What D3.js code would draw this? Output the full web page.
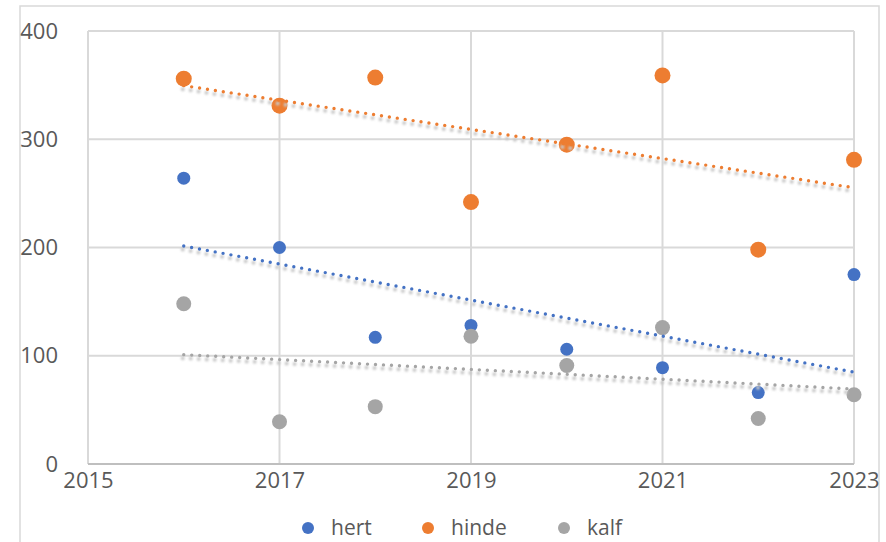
<!DOCTYPE html>
<html>
<head>
<meta charset="utf-8">
<script src="https://cdn.jsdelivr.net/npm/d3@7/dist/d3.min.js"></script>
<style>
  html, body { margin: 0; padding: 0; background: #fff; }
  svg { display: block; }
  text { font-family: "Open Sans", "Liberation Sans", sans-serif; fill: #595959; }
</style>
</head>
<body>
<svg id="chart" width="886" height="542"></svg>
<script>
// Jaarlijkse tellingen per categorie
const years = [2016, 2017, 2018, 2019, 2020, 2021, 2022, 2023];
const hert  = [264, 200, 117, 128, 106, 89, 66, 175];
const hinde = [356, 331, 357, 242, 295, 359, 198, 281];
const kalf  = [148, 39, 53, 118, 91, 126, 42, 64];

const seriesNames  = ["hert", "hinde", "kalf"];
const seriesColors = ["#4472C4", "#ED7D31", "#A5A5A5"];
const markerRadius = [6.5, 8, 7.5];

const xTicks = [2015, 2017, 2019, 2021, 2023];
const yTicks = [0, 100, 200, 300, 400];

const series = [hert, hinde, kalf].map((vals, i) => ({
  name: seriesNames[i],
  color: seriesColors[i],
  r: markerRadius[i],
  points: years.map((yr, j) => ({ x: yr, y: vals[j] }))
}));

const svg = d3.select("#chart");
const x = d3.scaleLinear().domain([2015, 2023]).range([88, 854]);
const y = d3.scaleLinear().domain([0, 400]).range([464, 31]);

// Outer chart frame
svg.append("rect")
  .attr("x", 20).attr("y", 6).attr("width", 859).attr("height", 560)
  .attr("fill", "none").attr("stroke", "#D9D9D9").attr("stroke-width", 1.5);

// Shadow filter for trendlines
const defs = svg.append("defs");
const f = defs.append("filter").attr("id", "trendShadow")
  .attr("x", "-10%").attr("y", "-50%").attr("width", "120%").attr("height", "200%");
f.append("feGaussianBlur").attr("stdDeviation", 0.9);

// Gridlines
const grid = svg.append("g");
grid.selectAll("line.h").data(yTicks.slice(1)).join("line")
  .attr("x1", x(2015)).attr("x2", x(2023))
  .attr("y1", d => y(d)).attr("y2", d => y(d))
  .attr("stroke", "#D9D9D9").attr("stroke-width", 2);
grid.selectAll("line.v").data(xTicks).join("line")
  .attr("x1", d => x(d)).attr("x2", d => x(d))
  .attr("y1", y(400)).attr("y2", y(0))
  .attr("stroke", "#D9D9D9").attr("stroke-width", 2);
// Horizontal axis line
grid.append("line")
  .attr("x1", x(2015)).attr("x2", x(2023))
  .attr("y1", y(0)).attr("y2", y(0))
  .attr("stroke", "#BFBFBF").attr("stroke-width", 2);

// Axes (labels only)
const yAxis = d3.axisLeft(y).tickValues(yTicks).tickSize(0).tickPadding(0);
svg.append("g").attr("transform", "translate(58,0)").call(yAxis)
  .call(g => g.select(".domain").remove())
  .selectAll("text").attr("font-size", 22).attr("fill", "#595959")
  .attr("font-family", "'Open Sans', sans-serif");

const xAxis = d3.axisBottom(x).tickValues(xTicks).tickFormat(d3.format("d")).tickSize(0).tickPadding(0);
svg.append("g").attr("transform", "translate(0,472)").call(xAxis)
  .call(g => g.select(".domain").remove())
  .selectAll("text").attr("font-size", 22).attr("fill", "#595959")
  .attr("font-family", "'Open Sans', sans-serif");

// Markers
const marks = svg.append("g");
series.forEach(s => {
  marks.append("g").selectAll("circle").data(s.points).join("circle")
    .attr("cx", d => x(d.x)).attr("cy", d => y(d.y))
    .attr("r", s.r).attr("fill", s.color);
});

// Linear trendlines (least squares)
function fit(points) {
  const mx = d3.mean(points, p => p.x), my = d3.mean(points, p => p.y);
  const sxy = d3.sum(points, p => (p.x - mx) * (p.y - my));
  const sxx = d3.sum(points, p => (p.x - mx) ** 2);
  const b = sxy / sxx, a = my - b * mx;
  const x0 = d3.min(points, p => p.x), x1 = d3.max(points, p => p.x);
  return [{ x: x0, y: a + b * x0 }, { x: x1, y: a + b * x1 }];
}
const line = d3.line().x(d => x(d.x)).y(d => y(d.y));
const trends = svg.append("g");
series.forEach(s => {
  const pts = fit(s.points);
  trends.append("path").attr("d", line(pts))
    .attr("transform", "translate(-1,3.5)")
    .attr("fill", "none").attr("stroke", "#C8C8C8").attr("stroke-width", 4)
    .attr("stroke-linecap", "round").attr("stroke-dasharray", "0 8")
    .attr("filter", "url(#trendShadow)");
  trends.append("path").attr("d", line(pts))
    .attr("fill", "none").attr("stroke", s.color).attr("stroke-width", 3.4)
    .attr("stroke-linecap", "round").attr("stroke-dasharray", "0 8");
});

// Legend
const legendX = [308, 428, 564];
const legend = svg.append("g");
series.forEach((s, i) => {
  const g = legend.append("g").attr("transform", `translate(${legendX[i]},528)`);
  g.append("circle").attr("r", 6).attr("fill", s.color);
  g.append("text").attr("x", 23).attr("y", 7).attr("font-size", 21)
    .attr("fill", "#595959").text(s.name);
});
</script>
</body>
</html>
